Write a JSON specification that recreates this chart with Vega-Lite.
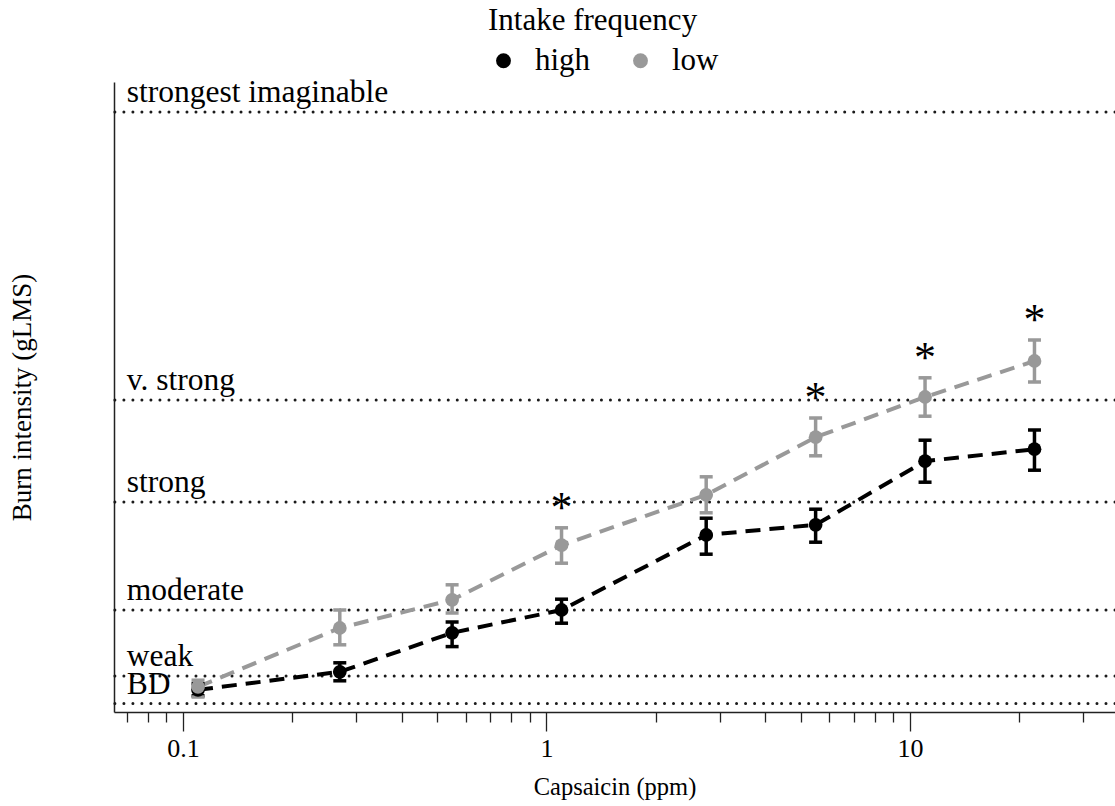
{
  "$schema": "https://vega.github.io/schema/vega-lite/v6.json",
  "width": 1001,
  "height": 630,
  "autosize": {"type": "none"},
  "padding": {"left": 114, "top": 82, "right": 0, "bottom": 94},
  "background": "white",
  "config": {
    "view": {"stroke": null},
    "font": "Liberation Serif",
    "text": {"font": "Liberation Serif", "color": "black"}
  },
  "datasets": {
    "burn": [
      {"dose": 0.11, "group": "high", "mean": 3.7, "lo": 2.7, "hi": 4.7, "sig": false},
      {"dose": 0.27, "group": "high", "mean": 6.7, "lo": 5.2, "hi": 8.2, "sig": false},
      {"dose": 0.55, "group": "high", "mean": 13.2, "lo": 10.9, "hi": 15.0, "sig": false},
      {"dose": 1.1, "group": "high", "mean": 17.0, "lo": 14.8, "hi": 18.8, "sig": false},
      {"dose": 2.75, "group": "high", "mean": 29.5, "lo": 26.3, "hi": 32.3, "sig": false},
      {"dose": 5.5, "group": "high", "mean": 31.2, "lo": 28.3, "hi": 33.8, "sig": false},
      {"dose": 11, "group": "high", "mean": 41.8, "lo": 38.3, "hi": 45.3, "sig": false},
      {"dose": 22, "group": "high", "mean": 43.8, "lo": 40.3, "hi": 47.0, "sig": false},
      {"dose": 0.11, "group": "low", "mean": 4.2, "lo": 2.5, "hi": 5.3, "sig": false},
      {"dose": 0.27, "group": "low", "mean": 14.0, "lo": 11.2, "hi": 17.0, "sig": false},
      {"dose": 0.55, "group": "low", "mean": 18.7, "lo": 16.5, "hi": 21.2, "sig": false},
      {"dose": 1.1, "group": "low", "mean": 27.8, "lo": 24.8, "hi": 30.7, "sig": true},
      {"dose": 2.75, "group": "low", "mean": 36.2, "lo": 33.2, "hi": 39.2, "sig": false},
      {"dose": 5.5, "group": "low", "mean": 45.8, "lo": 42.7, "hi": 49.0, "sig": true},
      {"dose": 11, "group": "low", "mean": 52.5, "lo": 49.3, "hi": 55.7, "sig": true},
      {"dose": 22, "group": "low", "mean": 58.5, "lo": 55.0, "hi": 62.0, "sig": true}
    ],
    "glms": [
      {"level": 1.4, "label": "BD"},
      {"level": 6, "label": "weak"},
      {"level": 17, "label": "moderate"},
      {"level": 35, "label": "strong"},
      {"level": 52, "label": "v. strong"},
      {"level": 100, "label": "strongest imaginable"}
    ]
  },
  "layer": [
    {
      "data": {"name": "glms"},
      "mark": {"type": "rule", "color": "#1a1a1a", "strokeWidth": 3, "strokeDash": [0.01, 9], "strokeCap": "round"},
      "encoding": {
        "y": {"field": "level", "type": "quantitative"}
      }
    },
    {
      "data": {"name": "glms"},
      "mark": {"type": "text", "align": "left", "baseline": "alphabetic", "dy": -10, "fontSize": 31.5},
      "encoding": {
        "x": {"datum": 0.07, "type": "quantitative"},
        "y": {"field": "level", "type": "quantitative"},
        "text": {"field": "label"}
      }
    },
    {
      "data": {"name": "burn"},
      "mark": {"type": "line", "strokeWidth": 4, "strokeDash": [15, 9]},
      "encoding": {
        "x": {"field": "dose", "type": "quantitative"},
        "y": {"field": "mean", "type": "quantitative"},
        "stroke": {"field": "group", "type": "nominal", "legend": null, "scale": {"range": ["#000000", "#999999"]}}
      }
    },
    {
      "data": {"name": "burn"},
      "mark": {"type": "rule", "strokeWidth": 3.5},
      "encoding": {
        "x": {"field": "dose", "type": "quantitative"},
        "y": {"field": "lo", "type": "quantitative"},
        "y2": {"field": "hi"},
        "stroke": {"field": "group", "type": "nominal", "legend": null}
      }
    },
    {
      "data": {"name": "burn"},
      "mark": {"type": "tick", "orient": "horizontal", "size": 13, "thickness": 3.5, "opacity": 1},
      "encoding": {
        "x": {"field": "dose", "type": "quantitative"},
        "y": {"field": "lo", "type": "quantitative"},
        "fill": {"field": "group", "type": "nominal", "legend": null, "scale": {"range": ["#000000", "#999999"]}}
      }
    },
    {
      "data": {"name": "burn"},
      "mark": {"type": "tick", "orient": "horizontal", "size": 13, "thickness": 3.5, "opacity": 1},
      "encoding": {
        "x": {"field": "dose", "type": "quantitative"},
        "y": {"field": "hi", "type": "quantitative"},
        "fill": {"field": "group", "type": "nominal", "legend": null}
      }
    },
    {
      "data": {"name": "burn"},
      "mark": {"type": "point", "shape": "circle", "filled": true, "size": 190, "opacity": 1},
      "encoding": {
        "x": {"field": "dose", "type": "quantitative"},
        "y": {"field": "mean", "type": "quantitative"},
        "color": {
          "field": "group",
          "type": "nominal",
          "scale": {"domain": ["high", "low"], "range": ["#000000", "#999999"]},
          "legend": {
            "orient": "none",
            "legendX": 374,
            "legendY": -76,
            "direction": "horizontal",
            "title": "Intake frequency",
            "titleFont": "Liberation Serif",
            "titleFontSize": 31,
            "titleFontWeight": "normal",
            "titleColor": "black",
            "titleAnchor": "start",
            "titleLimit": 500,
            "titlePadding": 8,
            "labelFont": "Liberation Serif",
            "labelFontSize": 31,
            "labelColor": "black",
            "labelOffset": 16,
            "columnPadding": 34,
            "symbolType": "circle",
            "symbolSize": 220,
            "symbolStrokeWidth": 0
          }
        }
      }
    },
    {
      "data": {"name": "burn"},
      "transform": [{"filter": "datum.sig"}],
      "mark": {"type": "text", "text": "*", "fontSize": 44, "baseline": "alphabetic", "align": "center", "dy": -6},
      "encoding": {
        "x": {"field": "dose", "type": "quantitative"},
        "y": {"field": "hi", "type": "quantitative"}
      }
    }
  ],
  "encoding": {
    "x": {
      "type": "quantitative",
      "scale": {"type": "log", "domain": [0.0646, 36.64], "nice": false},
      "axis": {
        "title": "Capsaicin (ppm)",
        "titleFont": "Liberation Serif",
        "titleFontSize": 24.5,
        "titleFontWeight": "normal",
        "titleColor": "black",
        "titlePadding": 14,
        "values": [0.07, 0.08, 0.09, 0.1, 0.2, 0.3, 0.4, 0.5, 0.6, 0.7, 0.8, 0.9, 1, 2, 3, 4, 5, 6, 7, 8, 9, 10, 20, 30],
        "labelExpr": "datum.value == 0.1 ? '0.1' : datum.value == 1 ? '1' : datum.value == 10 ? '10' : ''",
        "labelFont": "Liberation Serif",
        "labelFontSize": 26,
        "labelColor": "black",
        "labelPadding": 4,
        "labelFlush": false,
        "labelOverlap": false,
        "tickSize": {"condition": {"test": "datum.value == 0.1 || datum.value == 1 || datum.value == 10", "value": 19}, "value": 10},
        "tickColor": "#222",
        "tickWidth": 1.3,
        "domainColor": "#222",
        "domainWidth": 1.5,
        "grid": false
      }
    },
    "y": {
      "type": "quantitative",
      "scale": {"domain": [0, 105], "nice": false, "zero": false},
      "axis": {
        "title": "Burn intensity (gLMS)",
        "titleFont": "Liberation Serif",
        "titleFontSize": 27,
        "titleFontWeight": "normal",
        "titleColor": "black",
        "titlePadding": 78,
        "ticks": false,
        "labels": false,
        "grid": false,
        "domainColor": "#222",
        "domainWidth": 1.5
      }
    }
  }
}
